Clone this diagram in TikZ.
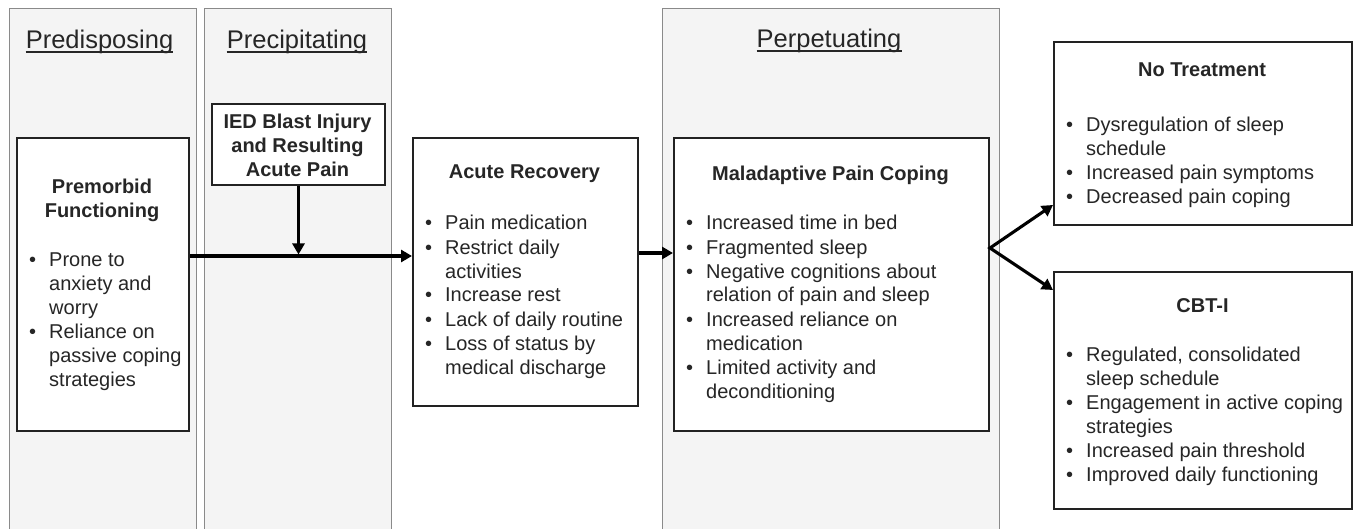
\documentclass[tikz,border=0pt]{standalone}
\usepackage{fontspec}
\setmainfont{Liberation Sans}
\usetikzlibrary{arrows.meta,calc}
\definecolor{pfill}{HTML}{F4F4F4}
\definecolor{pline}{HTML}{8A8A8A}
\definecolor{bline}{HTML}{222222}
\definecolor{ink}{HTML}{262626}
\newcommand{\bt}{\makebox[20pt][l]{•}}
\tikzset{
  panel/.style={draw=pline, fill=pfill, line width=1.2pt, inner sep=0pt, anchor=north west},
  box/.style={draw=bline, fill=white, line width=2pt, inner sep=0pt, anchor=north west},
  hdr/.style={text=ink, inner sep=0pt, anchor=base, font=\fontsize{25.5}{30}\selectfont},
  ul/.style={draw=ink, line width=1.3pt},
  ttl/.style={text=ink, inner sep=0pt, anchor=north, font=\fontsize{20}{24}\selectfont\bfseries},
  lst/.style={text=ink, inner sep=0pt, anchor=north west, font=\fontsize{20}{24}\selectfont},
  arr/.style={draw=black, line width=3.1pt, -{Triangle[length=11pt,width=12pt]}},
  arr2/.style={draw=black, line width=3.1pt, {Triangle[length=11pt,width=12pt]}-{Triangle[length=11pt,width=12pt]}}
}
\begin{document}
\begin{tikzpicture}[x=1pt,y=-1pt]
\useasboundingbox (0,0) rectangle (1359,529);
\fill[white] (0,0) rectangle (1359,529);
% panels
\node[panel, minimum width=187pt, minimum height=530pt] (p1) at (9,8) {};
\node[panel, minimum width=187pt, minimum height=530pt] (p2) at (204,8) {};
\node[panel, minimum width=337pt, minimum height=530pt] (p3) at (662,8) {};
% headers
\node[hdr] (h1) at (99.5,49) {Predisposing};
\node[hdr] (h2) at (297,49) {Precipitating};
\node[hdr] (h3) at (829,48) {Perpetuating};
\draw[ul] ($(h1.base west)+(0,3)$) -- ($(h1.base east)+(0,3)$);
\draw[ul] ($(h2.base west)+(0,3)$) -- ($(h2.base east)+(0,3)$);
\draw[ul] ($(h3.base west)+(0,3)$) -- ($(h3.base east)+(0,3)$);
% boxes
\node[box, minimum width=172pt, minimum height=293pt] (pm) at (16,137) {};
\node[box, minimum width=173pt, minimum height=81pt] (ied) at (211,103) {};
\node[box, minimum width=225pt, minimum height=268pt] (ar) at (412,137) {};
\node[box, minimum width=315pt, minimum height=293pt] (mal) at (673,137) {};
\node[box, minimum width=298pt, minimum height=183pt] (nt) at (1053,41) {};
\node[box, minimum width=298pt, minimum height=237pt] (cbt) at (1053,271) {};
% titles
\node[ttl] (pmt) at (102,177) {\begin{tabular}{@{}c@{}}Premorbid\\Functioning\end{tabular}};
\node[ttl] (iedt) at (297.5,112) {\begin{tabular}{@{}c@{}}IED Blast Injury\\and Resulting\\Acute Pain\end{tabular}};
\node[ttl] (art) at (524.5,165) {Acute Recovery};
\node[ttl] (malt) at (830.5,166) {Maladaptive Pain Coping};
\node[ttl] (ntt) at (1202,63) {No Treatment};
\node[ttl] (cbtt) at (1202.5,298) {CBT-I};
% lists
\node[lst] (pml) at (29,249) {\begin{tabular}{@{}l@{}l@{}}
\bt & Prone to\\ & anxiety and\\ & worry\\
\bt & Reliance on\\ & passive coping\\ & strategies\end{tabular}};
\node[lst] (arl) at (425,213) {\begin{tabular}{@{}l@{}l@{}}
\bt & Pain medication\\
\bt & Restrict daily\\ & activities\\
\bt & Increase rest\\
\bt & Lack of daily routine\\
\bt & Loss of status by\\ & medical discharge\end{tabular}};
\node[lst] (mall) at (686,213) {\begin{tabular}{@{}l@{}l@{}}
\bt & Increased time in bed\\
\bt & Fragmented sleep\\
\bt & Negative cognitions about\\ & relation of pain and sleep\\
\bt & Increased reliance on\\ & medication\\
\bt & Limited activity and\\ & deconditioning\end{tabular}};
\node[lst] (ntl) at (1066,115) {\begin{tabular}{@{}l@{}l@{}}
\bt & Dysregulation of sleep\\ & schedule\\
\bt & Increased pain symptoms\\
\bt & Decreased pain coping\end{tabular}};
\node[lst] (cbtl) at (1066,344) {\begin{tabular}{@{}l@{}l@{}}
\bt & Regulated, consolidated\\ & sleep schedule\\
\bt & Engagement in active coping\\ & strategies\\
\bt & Increased pain threshold\\
\bt & Improved daily functioning\end{tabular}};
% connectors
\coordinate (y1) at (0,256);
\coordinate (y0) at (0,254.5);
\coordinate (y2) at (0,253);
\coordinate (yf) at (0,248);
\coordinate (yu) at (0,205);
\coordinate (yl) at (0,290);
\coordinate (fk) at (mal.east |- yf);
\draw[arr] (ied.south) -- (ied.south |- y0);
\draw[arr] (pm.east |- y1) -- (ar.west |- y1);
\draw[arr] (ar.east |- y2) -- (mal.west |- y2);
\draw[arr2] (nt.west |- yu) -- (fk) -- (cbt.west |- yl);
\end{tikzpicture}
\end{document}
